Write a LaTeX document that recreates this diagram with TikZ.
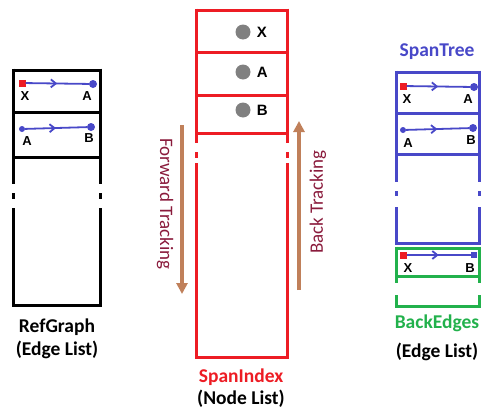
\documentclass[tikz,border=0pt]{standalone}
\usepackage{fontspec}
\setmainfont{Carlito}
\newfontfamily\vtxfont{Liberation Sans}
\usetikzlibrary{arrows.meta,decorations.markings}
\definecolor{idxred}{HTML}{ED1C24}
\definecolor{treeblue}{HTML}{4848C8}
\definecolor{backgreen}{HTML}{22B14C}
\definecolor{trackbrown}{HTML}{C0805A}
\definecolor{trackmaroon}{HTML}{8A1B3C}

\begin{document}
\begin{tikzpicture}[x=1pt,y=-1pt,line cap=butt,
  wall/.style={line width=3pt},
  srcnode/.style={fill=idxred,minimum size=7pt,inner sep=0pt},
  dstnode/.style={circle,fill=treeblue,minimum size=8pt,inner sep=0pt},
  tailnode/.style={circle,fill=treeblue,minimum size=6pt,inner sep=0pt},
  tiplabel/.style={font=\vtxfont\bfseries\fontsize{13}{13}\selectfont,inner sep=0pt},
  edgeline/.style={treeblue,line width=1.8pt,postaction={decorate},
    decoration={markings,mark=at position 0.5 with {\arrow{Straight Barb[length=5pt,width=8pt]}}}},
  slot/.style={circle,fill=gray,minimum size=15pt,inner sep=0pt},
  slotlabel/.style={font=\vtxfont\bfseries\fontsize{15}{15}\selectfont,inner sep=0pt},
  title/.style={font=\bfseries\fontsize{19.5}{19.5}\selectfont,inner sep=0pt},
  track/.style={-{Triangle[length=11pt,width=11pt]},trackbrown,line width=3.5pt},
  tracklabel/.style={font=\fontsize{19}{19}\selectfont,trackmaroon,inner sep=0pt}]
\useasboundingbox (0,0) rectangle (483,410);

% RefGraph
\draw[wall] (13,70) -- (100,70);
\draw[wall] (13,112) -- (100,112);
\draw[wall] (13,157) -- (100,157);
\draw[wall] (13,305) -- (100,305);
\draw[wall] (13,68.5) -- (13,184) (13,193) -- (13,199) (13,208) -- (13,306.5);
\draw[wall] (100,68.5) -- (100,184) (100,193) -- (100,199) (100,208) -- (100,306.5);
\node[srcnode] (rg1s) at (22,83) {};
\node[dstnode] (rg1t) at (93,84) {};
\draw[edgeline] (rg1s) -- (rg1t);
\node[tiplabel] (rg1x) at (25,96) {X};
\node[tiplabel] (rg1a) at (87,96) {A};
\node[tailnode] (rg2s) at (22,129) {};
\node[dstnode] (rg2t) at (91,127) {};
\draw[edgeline] (rg2s) -- (rg2t);
\node[tiplabel] (rg2a) at (27,141) {A};
\node[tiplabel] (rg2b) at (89,138) {B};
\node[title] (rgname) at (57,327) {RefGraph};
\node[title] (rgkind) at (57,350) {(Edge List)};

% SpanIndex
\begin{scope}[idxred]
\draw[wall] (196,10) -- (287,10);
\draw[wall] (196,52) -- (287,52);
\draw[wall] (196,95) -- (287,95);
\draw[wall] (196,133) -- (287,133);
\draw[wall] (196,357) -- (287,357);
\draw[wall] (196,8.5) -- (196,143) (196,152) -- (196,158) (196,163) -- (196,358.5);
\draw[wall] (287,8.5) -- (287,143) (287,152) -- (287,158) (287,163) -- (287,358.5);
\end{scope}
\node[slot] (six) at (243,32) {};
\node[slotlabel,right=6pt] (sixl) at (six.east) {X};
\node[slot] (sia) at (243,72) {};
\node[slotlabel,right=6pt] (sial) at (sia.east) {A};
\node[slot] (sib) at (243,110) {};
\node[slotlabel,right=6pt] (sibl) at (sib.east) {B};
\node[title,idxred] (siname) at (241,377) {SpanIndex};
\node[title] (sikind) at (241,399) {(Node List)};

% tracking
\coordinate (fwtop) at (182,125);
\coordinate (fwbot) at (182,294);
\draw[track] (fwtop) -- (fwbot);
\node[tracklabel,rotate=-90] (fwname) at (165,204) {Forward Tracking};
\coordinate (bkbot) at (299,290);
\coordinate (bktop) at (299,121);
\draw[track] (bkbot) -- (bktop);
\node[tracklabel,rotate=90] (bkname) at (318,202) {Back Tracking};

% SpanTree
\begin{scope}[treeblue]
\draw[wall] (396,72) -- (479,72);
\draw[wall] (396,113) -- (479,113);
\draw[wall] (396,154) -- (479,154);
\draw[wall] (396,243) -- (479,243);
\draw[wall] (396,70.5) -- (396,182) (396,191) -- (396,196) (396,207) -- (396,244.5);
\draw[wall] (479,70.5) -- (479,182) (479,191) -- (479,196) (479,207) -- (479,244.5);
\end{scope}
\node[srcnode] (st1s) at (403,86) {};
\node[dstnode] (st1t) at (474,87) {};
\draw[edgeline] (st1s) -- (st1t);
\node[tiplabel] (st1x) at (407,99) {X};
\node[tiplabel] (st1a) at (468,99) {A};
\node[tailnode] (st2s) at (403,130) {};
\node[dstnode] (st2t) at (473,128) {};
\draw[edgeline] (st2s) -- (st2t);
\node[tiplabel] (st2a) at (408,143) {A};
\node[tiplabel] (st2b) at (471,140) {B};
\node[title,treeblue] (stname) at (437,52) {SpanTree};

% BackEdges
\begin{scope}[backgreen]
\draw[wall] (396,248) -- (479,248);
\draw[wall] (396,276) -- (479,276);
\draw[wall] (396,306) -- (479,306);
\draw[wall] (396,246.5) -- (396,283) (396,295) -- (396,307.5);
\draw[wall] (479,246.5) -- (479,283) (479,295) -- (479,307.5);
\end{scope}
\node[srcnode] (be1s) at (403,255) {};
\node[srcnode,fill=treeblue,minimum size=6pt] (be1t) at (474,255) {};
\draw[edgeline] (be1s) -- (be1t);
\node[tiplabel] (be1x) at (408,268) {X};
\node[tiplabel] (be1b) at (470,268) {B};
\node[title,backgreen] (bename) at (437,323) {BackEdges};
\node[title] (bekind) at (437,352) {(Edge List)};
\end{tikzpicture}
\end{document}
